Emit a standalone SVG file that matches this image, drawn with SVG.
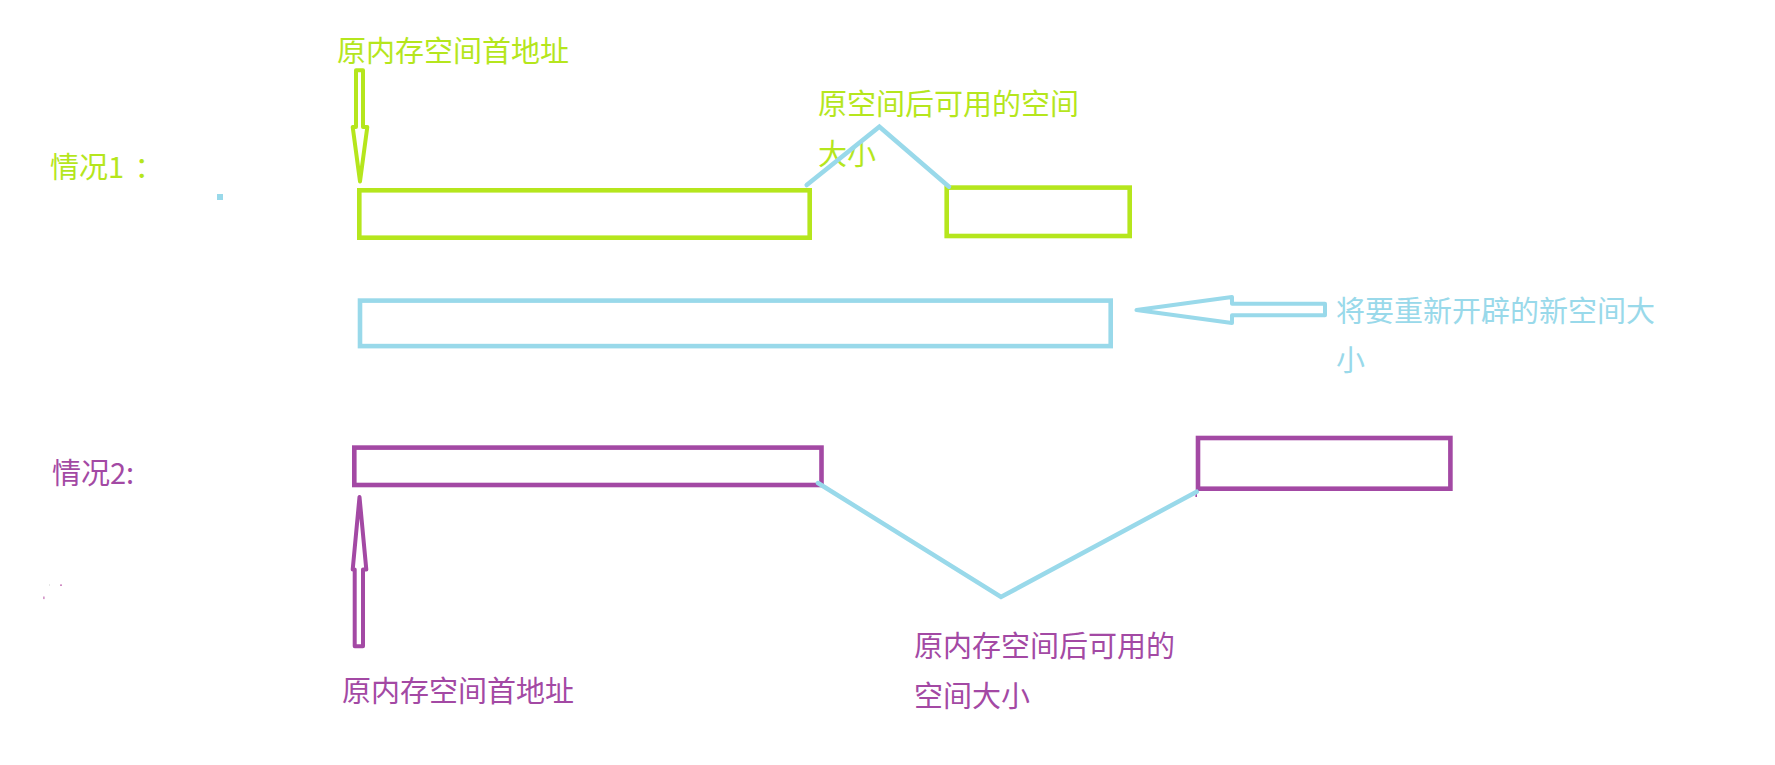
<svg xmlns="http://www.w3.org/2000/svg" width="1775" height="765" viewBox="0 0 1775 765">
<style>
text { font-family: "Noto Sans CJK SC", "Microsoft YaHei", sans-serif; font-size: 29px; }
.g { fill: #b5e61d; }
.b { fill: #99d9ea; }
.p { fill: #a349a4; }
.box { fill: none; stroke-width: 4.6; }
.gs { stroke: #b5e61d; }
.bs { stroke: #99d9ea; }
.ps { stroke: #a349a4; }
.vline { fill: none; stroke: #99d9ea; stroke-width: 4.5; stroke-linecap: round; stroke-linejoin: miter; }
.arrow { fill: none; stroke-width: 4; stroke-linejoin: round; }
</style>
<rect width="1775" height="765" fill="#ffffff"/>

<g id="case1-label"><text class="g" x="50" y="178">情况1<tspan x="134.5">：</tspan></text></g>
<g id="case1-addr-label"><text class="g" x="337" y="62">原内存空间首地址</text></g>
<g id="case1-free-label">
<text class="g" x="818" y="114.5">原空间后可用的空间</text>
<text class="g" x="818" y="164.5">大小</text>
</g>
<g id="case1-old-block"><rect class="box gs" x="359.3" y="190.3" width="450.4" height="47.4"/></g>
<g id="case1-next-block"><rect class="box gs" x="946.7" y="187.6" width="183" height="48.4"/></g>
<g id="blue-dot"><rect x="217" y="194" width="6" height="6" fill="#99d9ea"/></g>

<g id="new-block"><rect class="box bs" x="360" y="300.6" width="750.7" height="45.5"/></g>
<g id="new-size-label">
<text class="b" x="1336" y="322">将要重新开辟的新空间大</text>
<text class="b" x="1336" y="371">小</text>
</g>

<g id="case2-label"><text class="p" x="52" y="484">情况2:</text></g>
<g id="case2-old-block"><rect class="box ps" x="354.3" y="447.6" width="467.2" height="37.4"/></g>
<g id="case2-next-block">
<rect class="box ps" x="1198" y="438" width="252.4" height="50.7"/>
<line x1="1196.2" y1="490" x2="1196.2" y2="497" stroke="#a349a4" stroke-width="1.6"/>
</g>
<g id="case2-addr-label"><text class="p" x="342" y="702">原内存空间首地址</text></g>
<g id="case2-free-label">
<text class="p" x="914" y="657">原内存空间后可用的</text>
<text class="p" x="914" y="707">空间大小</text>
</g>

<g id="specks">
<rect x="49" y="584.5" width="1" height="1" fill="#d0d0d0"/>
<rect x="60" y="584.5" width="2" height="1.3" fill="#c46fb4"/>
<rect x="43.3" y="596.5" width="1.2" height="2.6" fill="#c46fb4"/>
</g>

<g id="connectors">
<polygon class="arrow gs" points="356,70.3 363,70.3 363,127 367.3,127 360,181.5 352.7,127 356,127"/>
<polyline class="vline" points="806.7,185 879.4,126.7 949,186.7"/>
<polygon class="arrow bs" points="1136.5,310 1232,297 1232,303.7 1325,303.7 1325,315.3 1232,315.3 1232,323"/>
<polygon class="arrow ps" points="359.5,497 366.3,569.5 363,569.5 363,646.3 354.7,646.3 354.7,569.5 352.7,569.5"/>
<polyline class="vline" points="818,483 1001,597 1196.7,491.7"/>
</g>
</svg>
